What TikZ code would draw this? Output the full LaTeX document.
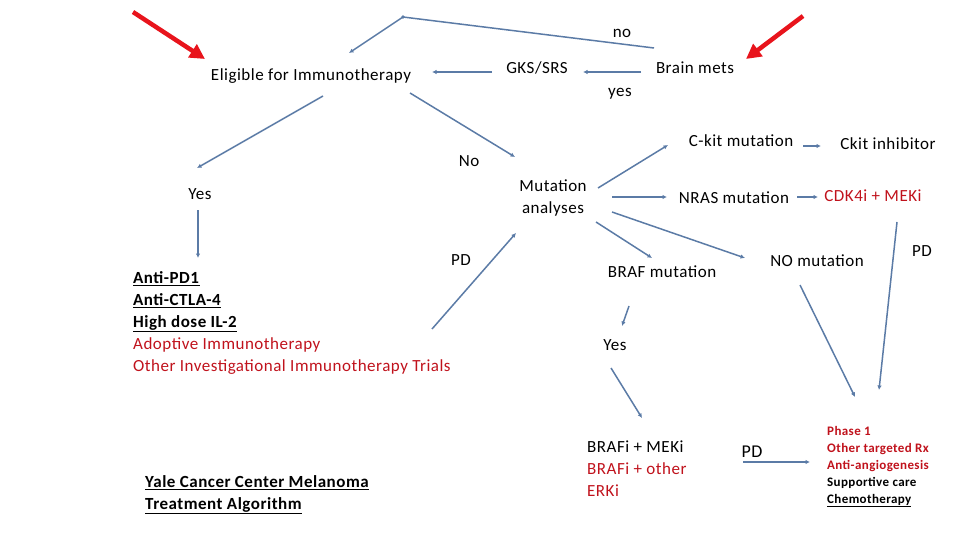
\documentclass[tikz,border=0pt]{standalone}
\usepackage{fontspec}
\setmainfont{Carlito}[LetterSpace=3]
\usetikzlibrary{arrows.meta}
\definecolor{lineblue}{HTML}{5B7BA6}
\definecolor{darkred}{HTML}{C0121C}
\definecolor{brightred}{HTML}{E8141C}
\tikzset{
  txt/.style={inner sep=0pt, anchor=base, font=\fontsize{17}{22}\selectfont},
  blk/.style={inner sep=0pt, anchor=north west, align=left, font=\fontsize{17}{22}\selectfont},
  conn/.style={draw=lineblue, line width=1.5pt, -{Latex[length=4.5pt,width=4.5pt]}},
  redarrow/.style={draw=brightred, line width=4.5pt, -{Triangle[length=15pt,width=15pt]}}
}
\begin{document}
\begin{tikzpicture}[x=1pt,y=-1pt]
\useasboundingbox (0,0) rectangle (960,540);
% text nodes
\node[txt] (elig) at (311,81) {Eligible for Immunotherapy};
\node[txt] (gks) at (537,74) {GKS/SRS};
\node[txt] (brain) at (695,74) {Brain mets};
\node[txt] (no1) at (622,38) {no};
\node[txt] (yes1) at (620,97) {yes};
\node[txt] (no2) at (469,167) {No};
\node[txt] (yes2) at (200,200) {Yes};
\node[blk, anchor=north, align=center] (mut) at (553,175.6) {\strut Mutation\\analyses};
\node[txt] (ckit) at (741,147) {C-kit mutation};
\node[txt] (ckinh) at (888,150) {Ckit inhibitor};
\node[txt] (nras) at (734,203) {NRAS mutation};
\node[txt, text=darkred] (cdk) at (873,201) {CDK4i + MEKi};
\node[txt] (nomut) at (817,266) {NO mutation};
\node[txt] (braf) at (662,277) {BRAF mutation};
\node[txt] (pd1) at (922,256) {PD};
\node[txt] (pd2) at (461,265) {PD};
\node[txt] (yes3) at (615,350) {Yes};
\node[txt, font=\fontsize{18}{22}\selectfont] (pd3) at (752,457) {PD};
\node[blk] (immuno) at (133,267.6) {\strut\underline{\textbf{Anti-PD1}}\\
  \underline{\textbf{Anti-CTLA-4}}\\
  \underline{\textbf{High dose IL-2}}\\
  \textcolor{darkred}{Adoptive Immunotherapy}\\
  \textcolor{darkred}{Other Investigational Immunotherapy Trials}};
\node[blk] (brafi) at (587,436.6) {\strut BRAFi + MEKi\\
  \textcolor{darkred}{BRAFi + other}\\
  \textcolor{darkred}{ERKi}};
\node[blk, font=\fontsize{13}{17}\selectfont\bfseries] (phase) at (827,423.1) {\strut\textcolor{darkred}{Phase 1}\\
  \textcolor{darkred}{Other targeted Rx}\\
  \textcolor{darkred}{Anti-angiogenesis}\\
  Supportive care\\
  \underline{Chemotherapy}};
\node[blk, font=\fontsize{17}{22}\selectfont\bfseries] (yale) at (145,471.6) {\strut\underline{Yale Cancer Center Melanoma}\\
  \underline{Treatment Algorithm}};
% connector end points
\coordinate (brainN) at (654,48);
\coordinate (corner) at (403,17);
\coordinate (eligN) at (349,53);
\coordinate (brainW) at (641,72);
\coordinate (gksE) at (583,72);
\coordinate (gksW) at (492,72);
\coordinate (eligE) at (432,72);
\coordinate (eligSW) at (323,96);
\coordinate (yes2N) at (197,168);
\coordinate (eligSE) at (410,93);
\coordinate (mutNW) at (515,157);
\coordinate (yes2S) at (198,210);
\coordinate (immunoN) at (198,258);
\coordinate (immunoE) at (432,329);
\coordinate (mutSW) at (516,233);
\coordinate (mutNE) at (598,188);
\coordinate (ckitW) at (668,145);
\coordinate (mutE) at (612,197);
\coordinate (nrasW) at (667,197);
\coordinate (mutS) at (596,222);
\coordinate (brafN) at (652,258);
\coordinate (mutSE) at (612,212);
\coordinate (nomutW) at (745,258);
\coordinate (ckitE) at (803,146);
\coordinate (ckinhW) at (821,146);
\coordinate (nrasE) at (797,197);
\coordinate (cdkW) at (818,197);
\coordinate (brafS) at (629,306);
\coordinate (yes3N) at (622,326);
\coordinate (yes3S) at (611,368);
\coordinate (brafiN) at (642,418);
\coordinate (brafiE) at (743,462);
\coordinate (phaseW) at (810,462);
\coordinate (nomutS) at (800,285);
\coordinate (phaseN1) at (855,397);
\coordinate (cdkS) at (897,222);
\coordinate (phaseN2) at (879,390);
\coordinate (red1s) at (133,12);
\coordinate (red1e) at (205,59);
\coordinate (red2s) at (803,16);
\coordinate (red2e) at (746,59);
% connectors
\draw[conn] (brainN) -- (corner) -- (eligN);
\fill[lineblue] (corner) circle (1.8);
\draw[conn] (brainW) -- (gksE);
\draw[conn] (gksW) -- (eligE);
\draw[conn] (eligSW) -- (yes2N);
\draw[conn] (eligSE) -- (mutNW);
\draw[conn] (yes2S) -- (immunoN);
\draw[conn] (immunoE) -- (mutSW);
\draw[conn] (mutNE) -- (ckitW);
\draw[conn] (mutE) -- (nrasW);
\draw[conn] (mutS) -- (brafN);
\draw[conn] (mutSE) -- (nomutW);
\draw[conn] (ckitE) -- (ckinhW);
\draw[conn] (nrasE) -- (cdkW);
\draw[conn] (brafS) -- (yes3N);
\draw[conn] (yes3S) -- (brafiN);
\draw[conn] (brafiE) -- (phaseW);
\draw[conn] (nomutS) -- (phaseN1);
\draw[conn] (cdkS) -- (phaseN2);
\draw[redarrow] (red1s) -- (red1e);
\draw[redarrow] (red2s) -- (red2e);
\end{tikzpicture}
\end{document}
